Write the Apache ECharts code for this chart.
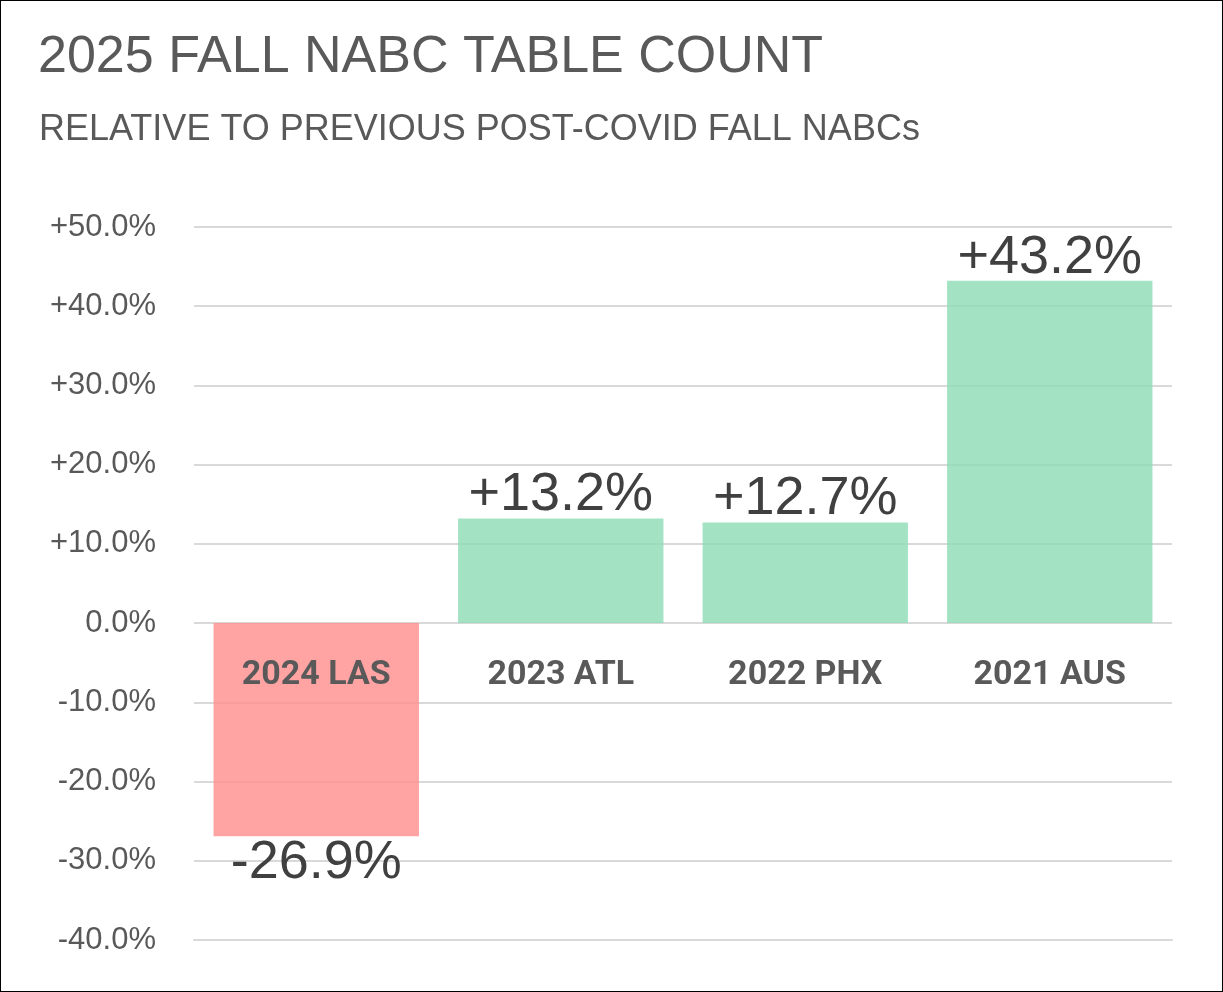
<!DOCTYPE html>
<html><head><meta charset="utf-8">
<script src="https://cdn.jsdelivr.net/npm/echarts@6/dist/echarts.min.js"></script>
<style>html,body{margin:0;padding:0;background:#fff}#c{width:1221px;height:990px;border:1px solid #000}</style>
</head><body><div id="c"></div>
<script>
const categories = ['2024 LAS','2023 ATL','2022 PHX','2021 AUS'];
const values = [-26.9, 13.2, 12.7, 43.2];
const yTicks = {min:-40, max:50, interval:10};
const fmt = v => (v>0?'+':'') + v.toFixed(1) + '%';
const chart = echarts.init(document.getElementById('c'));
chart.setOption({
  animation:false,
  title:[
    {text:'2025 FALL NABC TABLE COUNT', left:32, top:26, textStyle:{fontFamily:'Liberation Sans, Arial',fontSize:52,fontWeight:'normal',color:'#595959'}},
    {text:'RELATIVE TO PREVIOUS POST-COVID FALL NABCs', left:33, top:106, textStyle:{fontFamily:'Liberation Sans, Arial',fontSize:36,fontWeight:'normal',color:'#595959'}}
  ],
  grid:{left:193,right:50,top:226,bottom:51,outerBoundsMode:'none',containLabel:false},
  xAxis:{type:'category',data:categories,z:5,position:'bottom',
    axisLine:{onZero:false,lineStyle:{color:'#d9d9d9',width:2}},axisTick:{show:false},
    axisLabel:{margin:-282,fontSize:34,fontWeight:'bold',color:'#595959',fontFamily:'Roboto, Liberation Sans'}},
  yAxis:{type:'value',min:yTicks.min,max:yTicks.max,interval:yTicks.interval,
    splitLine:{lineStyle:{color:'#d9d9d9',width:2}},axisLine:{show:false},axisTick:{show:false},
    axisLabel:{formatter:fmt,fontSize:31,color:'#595959',margin:38,fontFamily:'Liberation Sans, Arial'}},
  series:[{type:'bar',barCategoryGap:'16%',
    data:values.map(v=>({value:v,itemStyle:{color:v<0?'rgba(255,140,140,0.8)':'rgba(140,220,180,0.8)'},
      label:{show:true,position:v<0?'bottom':'top',distance:v<0?0:-4}})),
    label:{formatter:p=>fmt(p.value),fontSize:54,color:'#404040',fontFamily:'Liberation Sans, Arial'}
  }]
});
</script></body></html>
